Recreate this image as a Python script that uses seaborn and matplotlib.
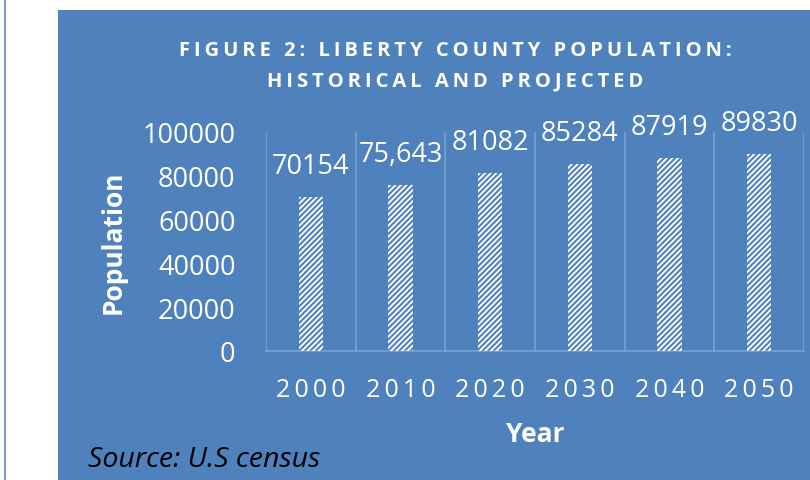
import matplotlib
matplotlib.use("Agg")
import matplotlib.pyplot as plt
import seaborn as sns
import pandas as pd
from matplotlib.patches import Rectangle
from matplotlib.lines import Line2D

# Données
years = ["2000", "2010", "2020", "2030", "2040", "2050"]
population = [70154, 75643, 81082, 85284, 87919, 89830]
bar_labels = ["70154", "75,643", "81082", "85284", "87919", "89830"]
yticks = [0, 20000, 40000, 60000, 80000, 100000]

BLUE = "#4F81BD"
FONT = ["Open Sans", "DejaVu Sans"]
THIN = "\u2009"


def spaced(s, sep=THIN):
    """Espacement des lettres (imitation du texte espacé d'Excel)."""
    return sep.join(s)


sns.set_theme(style="white")
plt.rcParams["font.family"] = FONT
plt.rcParams["hatch.linewidth"] = 1.5

df = pd.DataFrame({"year": years, "population": population})

fig = plt.figure(figsize=(8.1, 4.81), dpi=100, facecolor="white")
W, H = 810, 481

# Panneau bleu + filet à gauche
fig.patches.append(Rectangle((58 / W, 0), 752 / W, 470 / H, transform=fig.transFigure,
                             facecolor=BLUE, edgecolor="none", zorder=-10))
fig.lines.append(Line2D([5 / W, 5 / W], [0, 1], transform=fig.transFigure,
                        color="#7F9FD0", linewidth=1.5, zorder=-10))

ax = fig.add_axes([266 / W, (H - 352) / H, (804 - 266) / W, (352 - 133) / H])
ax.set_facecolor("none")

sns.barplot(data=df, x="year", y="population", ax=ax, color="white", width=0.27,
            hatch="//////", edgecolor=BLUE, linewidth=0, saturation=1)

ax.set_ylim(0, 100000)
ax.set_yticks(yticks)
ax.set_yticklabels([str(v) for v in yticks], color="white", fontsize=19.5)
ax.set_xticks(range(len(years)))
ax.set_xticklabels([spaced(y) for y in years], color="white", fontsize=18)
ax.tick_params(axis="y", length=0, pad=22)
ax.tick_params(axis="x", length=0, pad=19)
ax.set_xlabel("")
ax.set_ylabel("")

# Grille verticale entre catégories
for xb in [i - 0.5 for i in range(len(years) + 1)]:
    ax.axvline(xb, color="white", alpha=0.25, linewidth=1.2)
for side in ["top", "right", "left"]:
    ax.spines[side].set_visible(False)
ax.spines["bottom"].set_color((1, 1, 1, 0.25))
ax.spines["bottom"].set_linewidth(1.2)
ax.set_xlim(-0.5, len(years) - 0.5)

# Étiquettes de données
for i, (v, lab) in enumerate(zip(population, bar_labels)):
    ax.annotate(lab, (i, v), xytext=(0, 22.5), textcoords="offset points",
                ha="center", va="center", color="white", fontsize=19.5,
                annotation_clip=False)

# Titres et libellés
fig.text(455 / W, 1 - 51 / H, spaced("FIGURE 2: LIBERTY COUNTY POPULATION:"),
         ha="center", va="center", color="white", fontsize=14.5, fontweight="bold")
fig.text(455 / W, 1 - 81 / H, spaced("HISTORICAL AND PROJECTED"),
         ha="center", va="center", color="white", fontsize=14.5, fontweight="bold")
fig.text(113 / W, 1 - 242 / H, "Population", rotation=90, ha="center", va="center",
         color="white", fontsize=19, fontweight="bold")
fig.text(535 / W, 1 - 434 / H, "Year", ha="center", va="center",
         color="white", fontsize=19, fontweight="bold")
fig.text(88 / W, 1 - 460 / H, "Source: U.S census", ha="left", va="center",
         color="black", fontsize=20.5, fontstyle="italic")

fig.savefig("out.png", dpi=100, facecolor="white")
